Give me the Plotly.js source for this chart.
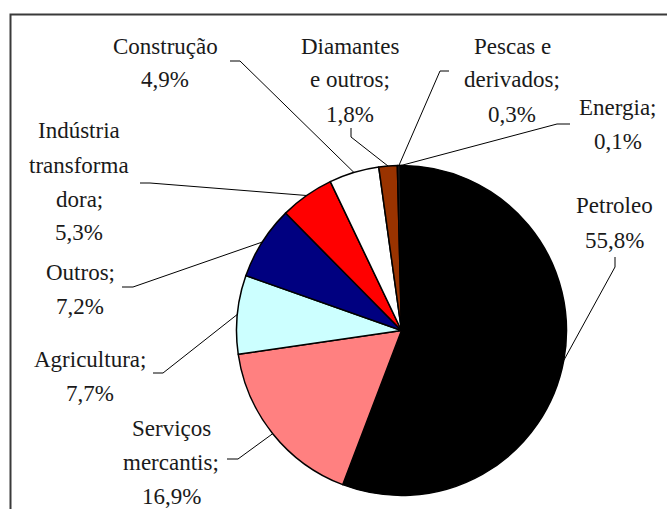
<!DOCTYPE html>
<html>
<head>
<meta charset="utf-8">
<script src="https://cdn.plot.ly/plotly-3.0.1.min.js"></script>
<style>
html,body{margin:0;padding:0;background:#fff;}
#chart{width:667px;height:509px;}
</style>
</head>
<body>
<div id="chart"></div>
<script>
// ---- data ----
const categories = ['Petroleo','Serviços mercantis','Agricultura','Outros','Indústria transformadora','Construção','Diamantes e outros','Pescas e derivados','Energia'];
const values = [55.8, 16.9, 7.7, 7.2, 5.3, 4.9, 1.8, 0.3, 0.1];
const labelNames = [['Petroleo'], ['Serviços','mercantis;'], ['Agricultura;'], ['Outros;'], ['Indústria','transforma','dora;'], ['Construção'], ['Diamantes','e outros;'], ['Pescas e','derivados;'], ['Energia;']];
const colors = ['#000000','#FF8080','#CCFFFF','#000080','#FF0000','#FFFFFF','#993300','#1a1a1a','#000000'];

// ---- layout constants (pixels) ----
const W = 667, H = 509;
const CX = 401.5, CY = 330.5, R = 165;
// label block: center x, first line y (px), line spacing
const labelPos = [[614,206],[171,428],[90,359],[80,272],[79,131],[165,46],[350,46],[512,46],[618,108]];
const LINE = 34;
// leader tick: start point and bend point (px)
const ticks = [
  [[615,257],[615,267]],
  [[227,459],[238,459]],
  [[153,373],[163,373]],
  [[122,287],[133,287]],
  [[140,183],[150,183]],
  [[230,61],[240,61]],
  [[351,128],[351,137]],
  [[449,71],[440,71]],
  [[570,124],[557,124]]
];

const px = x => x / W;
const py = y => 1 - y / H;
const fmt = v => v.toFixed(1).replace('.', ',') + '%';

const annotations = [];
const shapes = [];
const total = values.reduce((a,b)=>a+b,0);
let cum = 0;
values.forEach((v, i) => {
  const lines = labelNames[i].concat([fmt(v)]);
  const [lx, ly] = labelPos[i];
  lines.forEach((t, k) => {
    annotations.push({
      x: px(lx), y: py(ly + k*LINE), xref:'paper', yref:'paper',
      text: t, showarrow:false, xanchor:'center', yanchor:'middle',
      font:{family:'Times New Roman', size:23}
    });
  });
  const mid = (cum + v/2) / total * 2 * Math.PI;
  cum += v;
  const ex = CX + R * Math.sin(mid), ey = CY - R * Math.cos(mid);
  const [a, b] = ticks[i];
  shapes.push({
    type:'path', xref:'paper', yref:'paper',
    path: `M ${px(a[0])} ${py(a[1])} L ${px(b[0])} ${py(b[1])} L ${px(ex)} ${py(ey)}`,
    line:{color:'#000', width:1}
  });
});

// frame
shapes.push({type:'rect', xref:'paper', yref:'paper', x0:px(10.5), y0:py(14.5), x1:1.05, y1:-0.05, line:{color:'#3a3a3a', width:2}, fillcolor:'rgba(0,0,0,0)'});

const trace = {
  type:'pie', labels:categories, values:values, sort:false, direction:'clockwise', rotation:0,
  marker:{colors:colors, line:{color:'#000', width:1.5}},
  textinfo:'none', hoverinfo:'label+percent', showlegend:false,
  domain:{x:[px(CX-R), px(CX+R)], y:[py(CY+R), py(CY-R)]}
};

const layout = {
  width:W, height:H, margin:{l:0,r:0,t:0,b:0},
  paper_bgcolor:'#fff', plot_bgcolor:'#fff',
  font:{family:'Times New Roman', color:'#1a1a1a'},
  showlegend:false, annotations:annotations, shapes:shapes
};
Plotly.newPlot('chart', [trace], layout, {displayModeBar:false});
</script>
</body>
</html>
